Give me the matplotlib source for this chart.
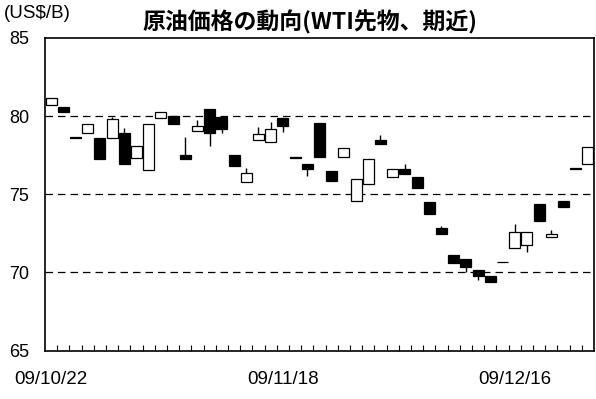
import matplotlib
matplotlib.use("Agg")
import matplotlib.pyplot as plt
import numpy as np

plt.rcParams['font.family'] = ['Liberation Sans', 'Noto Sans CJK JP', 'DejaVu Sans']

tick_labels = ['09/10/22', '09/11/18', '09/12/16']
tick_index = [0, 19, 38]

opens = [80.69, 80.56, 78.66, 78.90, 78.58, 78.58, 78.94, 77.30, 76.57, 79.86,
         80.00, 77.49, 79.05, 80.44, 79.96, 77.51, 75.76, 78.45, 78.34, 79.86,
         77.38, 76.94, 79.54, 76.49, 77.40, 74.59, 75.64, 78.45, 76.10, 76.60,
         76.12, 74.50, 72.86, 71.09, 70.86, 70.15, 69.79, 70.69, 71.54, 71.77,
         74.38, 72.25, 74.59, 76.66, 76.94]
closes = [81.14, 80.28, 78.62, 79.51, 77.26, 79.83, 76.92, 78.09, 79.51, 80.28,
          79.49, 77.27, 79.39, 78.94, 79.16, 76.81, 76.34, 78.84, 79.16, 79.37,
          77.34, 76.60, 77.40, 75.87, 77.98, 76.00, 77.27, 78.21, 76.60, 76.31,
          75.40, 73.74, 72.48, 70.60, 70.36, 69.77, 69.40, 70.65, 72.60, 72.60,
          73.29, 72.48, 74.20, 76.62, 78.00]
highs = [81.14, 80.56, 78.66, 79.51, 78.58, 79.96, 79.26, 78.09, 79.51, 80.28,
         80.00, 78.68, 79.75, 80.44, 79.96, 77.51, 76.70, 79.28, 79.62, 79.86,
         77.38, 76.94, 79.54, 76.49, 77.98, 76.00, 77.27, 78.79, 76.60, 76.94,
         76.12, 74.50, 72.95, 71.09, 70.86, 70.15, 69.79, 70.69, 73.10, 72.60,
         74.38, 72.73, 74.59, 76.66, 78.00]
lows = [80.69, 80.28, 78.62, 78.90, 77.26, 78.58, 76.92, 77.30, 76.57, 79.86,
        79.49, 77.27, 79.05, 78.09, 78.90, 76.81, 75.76, 78.45, 78.34, 79.00,
        77.34, 76.19, 77.40, 75.87, 77.40, 74.59, 75.64, 78.21, 76.10, 76.31,
        75.40, 73.74, 72.48, 70.60, 70.00, 69.53, 69.40, 70.65, 71.54, 71.29,
        73.29, 72.25, 74.20, 76.62, 76.94]

fig = plt.figure(figsize=(5.96, 3.99), dpi=100)
ax = fig.add_axes([0.0755, 0.1213, 0.9211, 0.7835])

x = np.arange(len(opens))
o = np.array(opens)
c = np.array(closes)
bottoms = np.minimum(o, c)
heights = np.maximum(np.abs(c - o), 0.04)
colors = ['black' if cc < oo else 'white' for oo, cc in zip(o, c)]

ax.vlines(x, lows, highs, color='black', linewidth=1.0, zorder=2)
ax.bar(x, heights, bottom=bottoms, width=0.9, color=colors,
       edgecolor='black', linewidth=0.9, zorder=3)

for yv in [70, 75, 80]:
    ax.axhline(yv, color='black', linewidth=0.9, linestyle=(0, (6, 4)), zorder=1)

ax.set_xlim(-0.5, len(opens) - 0.5)
ax.set_ylim(65, 85)
ax.set_yticks([65, 70, 75, 80, 85])
ax.tick_params(axis='y', length=0, pad=11.5, labelsize=13)
ax.set_xticks(tick_index)
ax.set_xticklabels(tick_labels)
ax.tick_params(axis='x', which='major', length=0, pad=15, labelsize=13.5)
ax.set_xticks(np.arange(0.5, len(opens) - 1, 1), minor=True)
ax.tick_params(axis='x', which='minor', direction='in', length=4, width=0.8)

for s in ax.spines.values():
    s.set_linewidth(1.2)
    s.set_color('black')

fig.text(0.006, 0.966, '(US$/B)', fontsize=13.5, ha='left', va='center')
fig.text(0.52, 0.943, '原油価格の動向(WTI先物、期近)', fontsize=16.5, fontweight='bold',
         ha='center', va='center', family=['Noto Sans CJK JP', 'DejaVu Sans'])

fig.savefig('out.png', dpi=100)
